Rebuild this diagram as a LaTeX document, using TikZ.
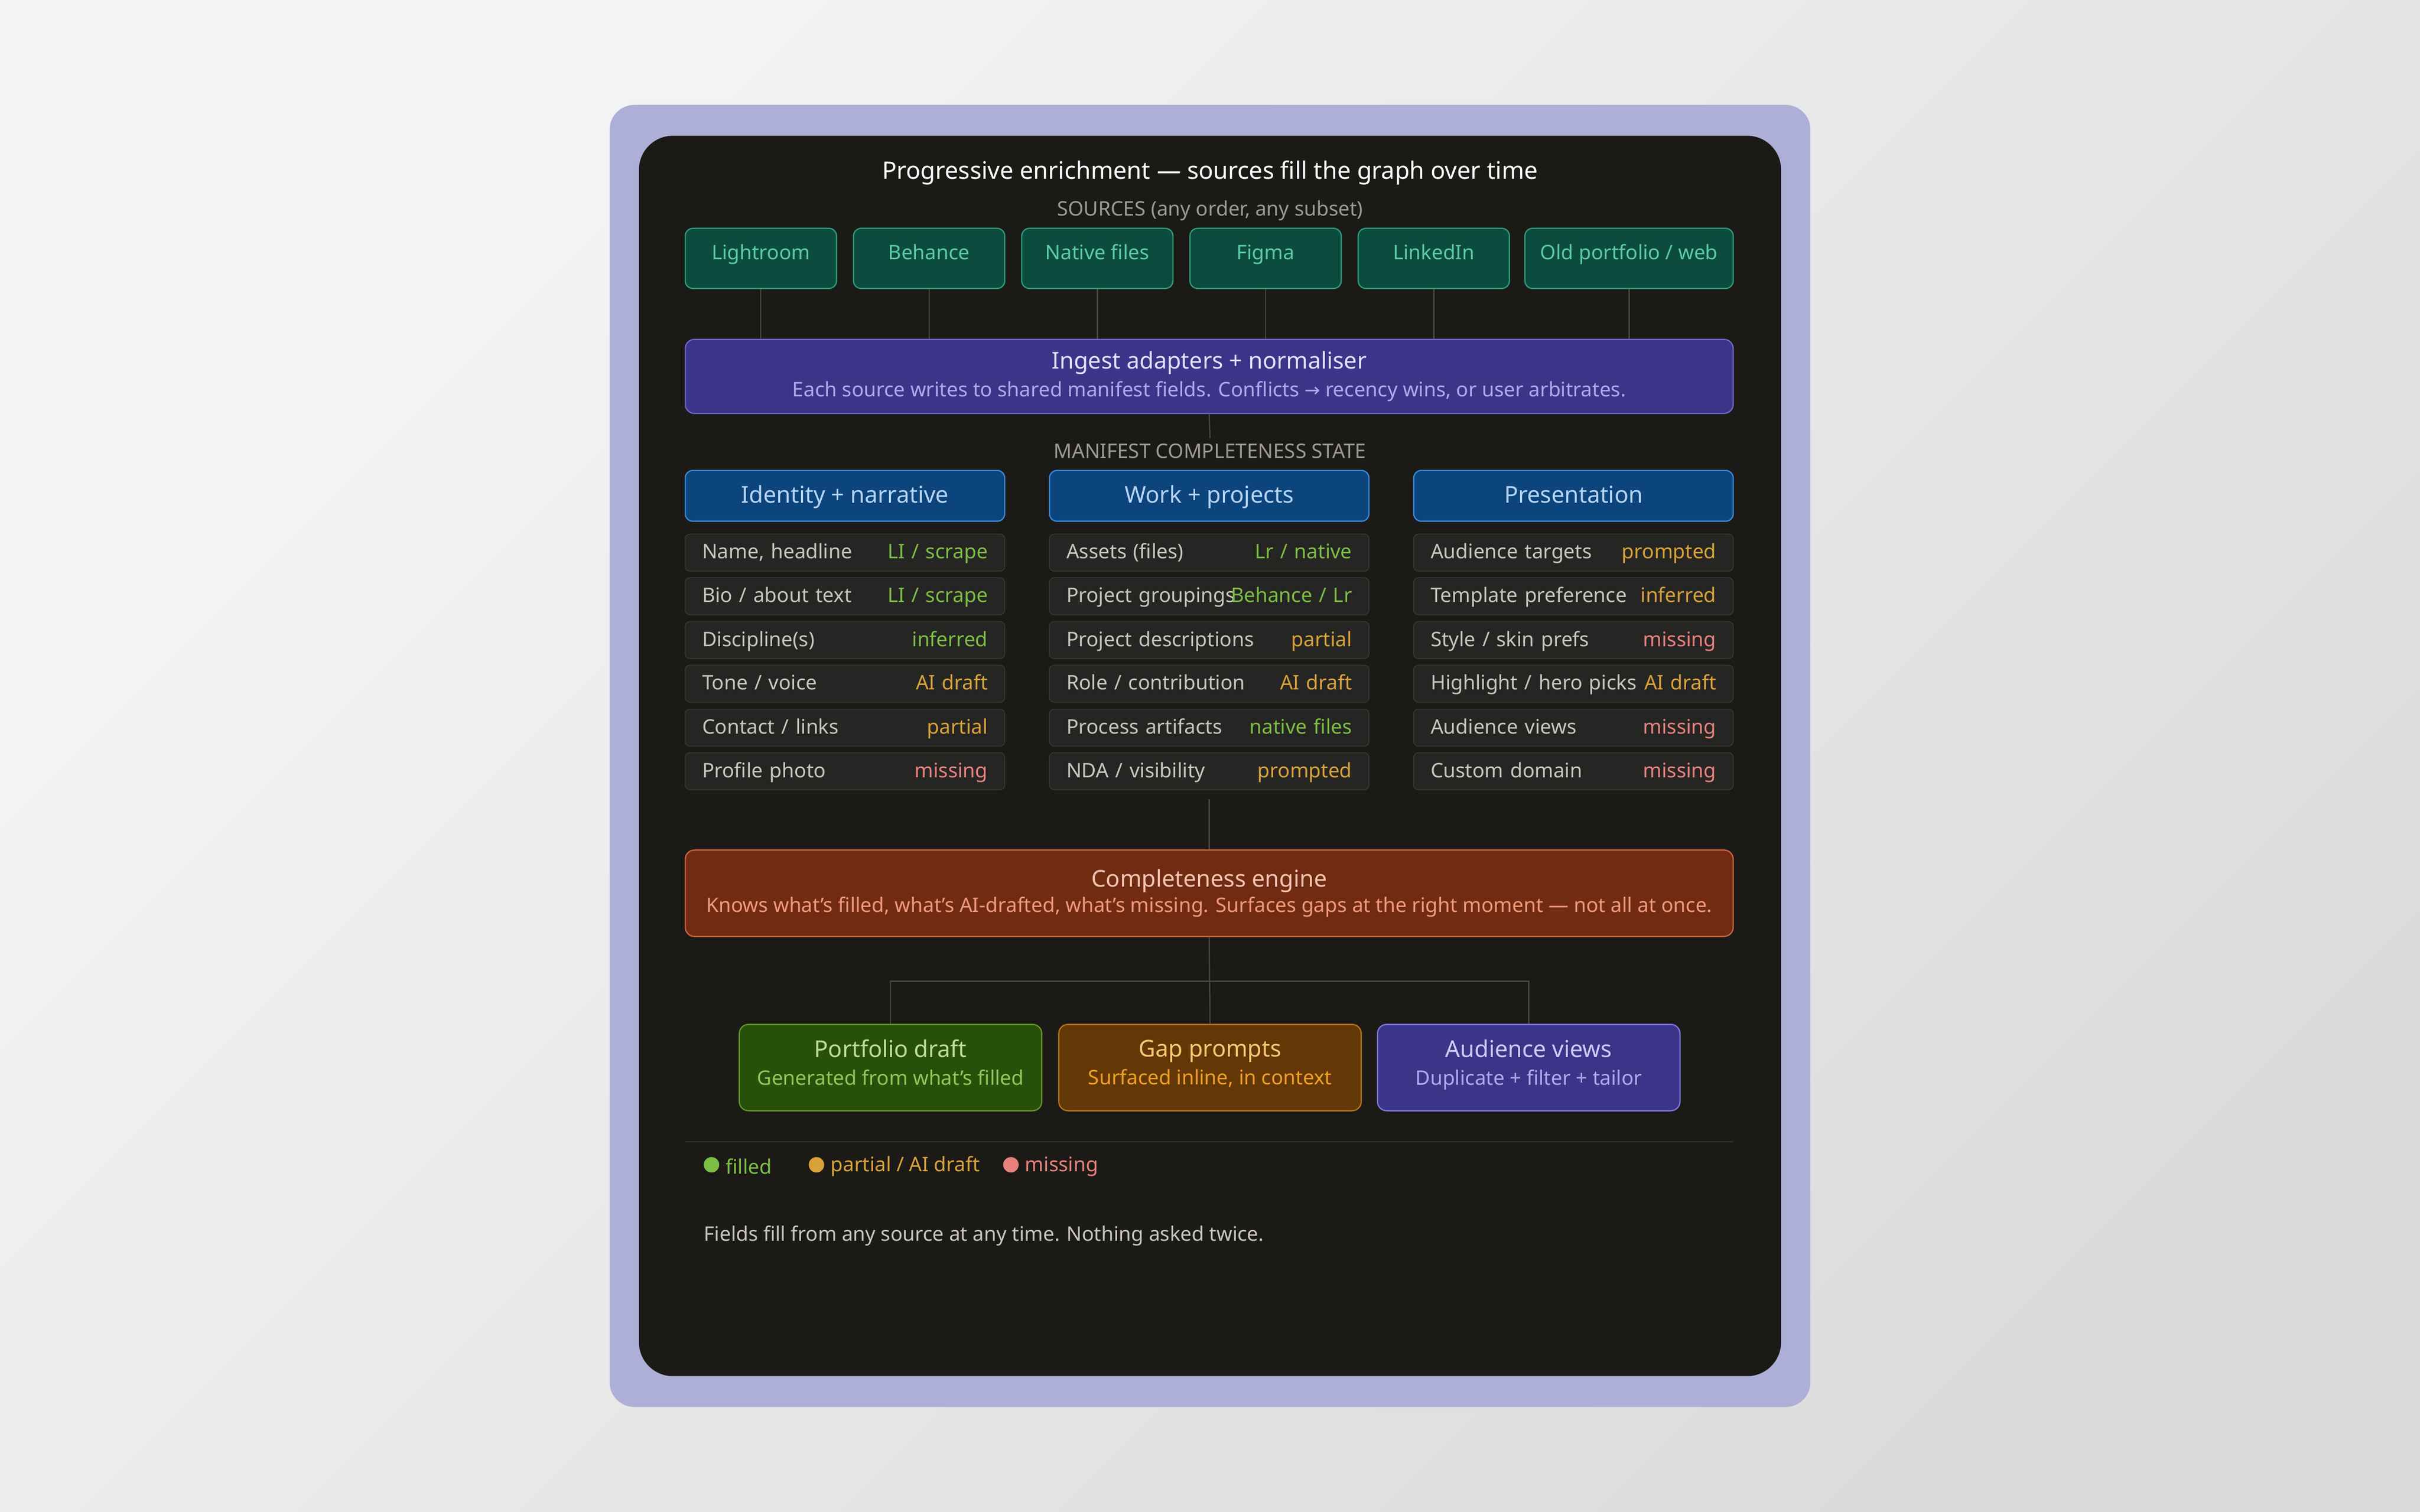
\documentclass[tikz,border=0pt]{standalone}
\usepackage{fontspec}
\setmainfont{Noto Sans}
\newfontfamily\symfont{DejaVu Sans}
\usepackage{tikz}

% colours
\definecolor{card}{HTML}{ADAFD7}
\definecolor{panel}{HTML}{1B1A17}
\definecolor{wire}{HTML}{47463F}
\definecolor{rule}{HTML}{2E2D2A}
\definecolor{note}{HTML}{9C9A92}
\definecolor{srcfill}{HTML}{0B4C3E}
\definecolor{srcline}{HTML}{2E9C7A}
\definecolor{srctext}{HTML}{5DCAA5}
\definecolor{ingfill}{HTML}{3C3489}
\definecolor{ingline}{HTML}{6F66CC}
\definecolor{ingtitle}{HTML}{E4E1FF}
\definecolor{ingsub}{HTML}{AFA9EC}
\definecolor{hdfill}{HTML}{0C447C}
\definecolor{hdline}{HTML}{378ADD}
\definecolor{hdtext}{HTML}{B5D4F4}
\definecolor{rowfill}{HTML}{252523}
\definecolor{rowline}{HTML}{353532}
\definecolor{rowtext}{HTML}{C8C6BE}
\definecolor{okgreen}{HTML}{7DBE45}
\definecolor{partamber}{HTML}{D9A23A}
\definecolor{misspink}{HTML}{E8817D}
\definecolor{engfill}{HTML}{712B13}
\definecolor{engline}{HTML}{D0633A}
\definecolor{engtitle}{HTML}{F5C4B3}
\definecolor{engsub}{HTML}{F0997B}
\definecolor{draftfill}{HTML}{27500A}
\definecolor{draftline}{HTML}{639922}
\definecolor{drafttitle}{HTML}{C0DD97}
\definecolor{draftsub}{HTML}{97C459}
\definecolor{gapfill}{HTML}{633806}
\definecolor{gapline}{HTML}{BA7517}
\definecolor{gaptitle}{HTML}{FAC775}
\definecolor{gapsub}{HTML}{EF9F27}
\definecolor{viewline}{HTML}{7F77DD}
\definecolor{viewtitle}{HTML}{CECBF6}

\begin{document}
\begin{tikzpicture}[x=1pt, y=-1pt,
    wire/.style={draw=wire, line width=.8pt},
    caption/.style={text=note, font=\fontsize{13}{16}\selectfont},
    srcbox/.style={
        % The shape:
        rectangle, rounded corners=5pt,
        % The size:
        minimum width=98pt, minimum height=39pt, inner ysep=4pt,
        text height=16.2pt, text depth=14.8pt,
        % The border
        line width=.8pt, draw=srcline,
        % The filling
        fill=srcfill, text=srctext, font=\fontsize{13}{16}\selectfont},
    wide/.style={
        rectangle, rounded corners=6pt,
        minimum width=679pt, align=center, line width=.8pt,
        font=\fontsize{13}{18}\selectfont},
    head/.style={
        rectangle, rounded corners=5pt,
        minimum width=207pt, minimum height=33pt,
        text height=13pt, text depth=3.5pt,
        line width=.8pt, draw=hdline,
        fill=hdfill, text=hdtext, font=\fontsize{15}{18}\selectfont},
    field/.style={
        rectangle, rounded corners=3pt,
        text width=185pt, inner xsep=11pt, minimum height=24pt,
        text height=11.5pt, text depth=3.5pt,
        line width=.6pt, draw=rowline,
        fill=rowfill, text=rowtext, font=\fontsize{13}{16}\selectfont},
    outbox/.style={
        rectangle, rounded corners=6pt,
        minimum width=196pt, minimum height=56pt, align=center,
        line width=.8pt, font=\fontsize{13}{18}\selectfont},
    legend/.style={anchor=west, inner xsep=0pt, font=\fontsize{13}{16}\selectfont},
    dot/.style={circle, minimum size=10pt, inner sep=0pt}]

    % page and card
    \useasboundingbox (0,0) rectangle (1568,980);
    \shade[top color=black!4, bottom color=black!14, shading angle=45] (0,0) rectangle (1568,980);
    \fill[card, rounded corners=16pt] (395,68) rectangle (1173,912);
    \fill[panel, rounded corners=22pt] (414,88) rectangle (1154,892);

    \node [text=white, font=\fontsize{15.6}{19}\selectfont] (title) at (784,112) {Progressive enrichment --- sources fill the graph over time};
    \node [caption] (sources) at (784,136.5) {SOURCES (any order, any subset)};

    % sources
    \node [srcbox] (lightroom) at (493,167.5) {Lightroom};
    \node [srcbox] (behance) at (602,167.5) {Behance};
    \node [srcbox] (native) at (711,167.5) {Native files};
    \node [srcbox] (figma) at (820,167.5) {Figma};
    \node [srcbox] (linkedin) at (929,167.5) {LinkedIn};
    \node [srcbox, minimum width=135pt] (oldweb) at (1055.5,167.5) {Old portfolio / web};

    \node [wide, minimum height=48pt, draw=ingline, fill=ingfill, text=ingsub] (ingest) at (783.5,244)
        {{\fontsize{15}{18}\selectfont\color{ingtitle}Ingest adapters + normaliser}\\Each source writes to shared manifest fields. Conflicts {\symfont\fontsize{12}{18}\selectfont →} recency wins, or user arbitrates.};
    \draw [wire] (lightroom.south) -- (lightroom.south |- ingest.north);
    \draw [wire] (behance.south) -- (behance.south |- ingest.north);
    \draw [wire] (native.south) -- (native.south |- ingest.north);
    \draw [wire] (figma.south) -- (figma.south |- ingest.north);
    \draw [wire] (linkedin.south) -- (linkedin.south |- ingest.north);
    \draw [wire] (oldweb.south) -- (oldweb.south |- ingest.north);

    \node [caption] (manifest) at (784,292.5) {MANIFEST COMPLETENESS STATE};
    \draw [wire] (ingest.south) -- (manifest.north);

    % identity + narrative
    \node [head] (idhead) at (547.5,321.4) {Identity + narrative};
    \node [field] (id1) at (547.5,358.2) {Name, headline\hfill\textcolor{okgreen}{LI / scrape}};
    \node [field] (id2) at (547.5,386.5) {Bio / about text\hfill\textcolor{okgreen}{LI / scrape}};
    \node [field] (id3) at (547.5,414.9) {Discipline(s)\hfill\textcolor{okgreen}{inferred}};
    \node [field] (id4) at (547.5,443.2) {Tone / voice\hfill\textcolor{partamber}{AI draft}};
    \node [field] (id5) at (547.5,471.6) {Contact / links\hfill\textcolor{partamber}{partial}};
    \node [field] (id6) at (547.5,499.9) {Profile photo\hfill\textcolor{misspink}{missing}};

    % work + projects
    \node [head] (wphead) at (783.5,321.4) {Work + projects};
    \node [field] (wp1) at (783.5,358.2) {Assets (files)\hfill\textcolor{okgreen}{Lr / native}};
    \node [field] (wp2) at (783.5,386.5) {\rlap{Project groupings}\hfill\mbox{\textcolor{okgreen}{Behance / Lr}}};
    \node [field] (wp3) at (783.5,414.9) {Project descriptions\hfill\textcolor{partamber}{partial}};
    \node [field] (wp4) at (783.5,443.2) {Role / contribution\hfill\textcolor{partamber}{AI draft}};
    \node [field] (wp5) at (783.5,471.6) {Process artifacts\hfill\textcolor{okgreen}{native files}};
    \node [field] (wp6) at (783.5,499.9) {NDA / visibility\hfill\textcolor{partamber}{prompted}};

    % presentation
    \node [head] (prhead) at (1019.5,321.4) {Presentation};
    \node [field] (pr1) at (1019.5,358.2) {Audience targets\hfill\textcolor{partamber}{prompted}};
    \node [field] (pr2) at (1019.5,386.5) {Template preference\hfill\textcolor{partamber}{inferred}};
    \node [field] (pr3) at (1019.5,414.9) {Style / skin prefs\hfill\textcolor{misspink}{missing}};
    \node [field] (pr4) at (1019.5,443.2) {Highlight / hero picks\hfill\textcolor{partamber}{AI draft}};
    \node [field] (pr5) at (1019.5,471.6) {Audience views\hfill\textcolor{misspink}{missing}};
    \node [field] (pr6) at (1019.5,499.9) {Custom domain\hfill\textcolor{misspink}{missing}};

    \node [wide, minimum height=56pt, draw=engline, fill=engfill, text=engsub] (engine) at (783.5,579)
        {{\fontsize{15}{18}\selectfont\color{engtitle}Completeness engine}\\[-1.5pt]Knows what's filled, what's AI-drafted, what's missing. Surfaces gaps at the right moment --- not all at once.\rule[-3pt]{0pt}{3pt}};
    \draw [wire, shorten <=6pt] (wp6.south) -- (engine.north);

    % outputs
    \node [outbox, draw=draftline, fill=draftfill, text=draftsub] (draft) at (577,692)
        {{\fontsize{15}{18}\selectfont\color{drafttitle}Portfolio draft}\\Generated from what's filled\rule[-7pt]{0pt}{7pt}};
    \node [outbox, draw=gapline, fill=gapfill, text=gapsub] (gap) at (784,692)
        {{\fontsize{15}{18}\selectfont\color{gaptitle}Gap prompts}\\Surfaced inline, in context\rule[-7pt]{0pt}{7pt}};
    \node [outbox, draw=viewline, fill=ingfill, text=ingsub] (views) at (990.5,692)
        {{\fontsize{15}{18}\selectfont\color{viewtitle}Audience views}\\Duplicate + filter + tailor\rule[-7pt]{0pt}{7pt}};
    \coordinate (fork) at (784,636);
    \draw [wire] (engine.south) -- (gap.north);
    \draw [wire] (draft.north) |- (fork) -| (views.north);

    % legend
    \draw [rule, line width=1pt] (444,740) -- (1123,740);
    \node [dot, fill=okgreen] (dfilled) at (461,755) {};
    \node [legend, text=okgreen] (lfilled) at (470,756) {filled};
    \node [dot, fill=partamber] (dpartial) at (529,755) {};
    \node [legend, text=partamber] (lpartial) at (538,756) {partial / AI draft};
    \node [dot, fill=misspink] (dmissing) at (655,755) {};
    \node [legend, text=misspink] (lmissing) at (664,756) {missing};

    \node [legend, text=rowtext] (footer) at (456,801) {Fields fill from any source at any time. Nothing asked twice.};
\end{tikzpicture}
\end{document}
